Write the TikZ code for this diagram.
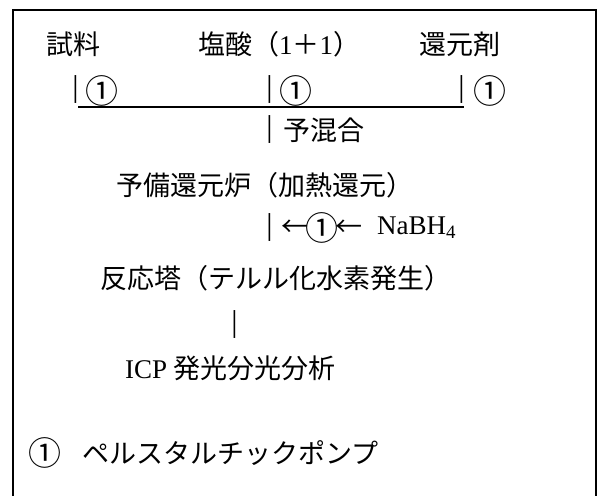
\documentclass[tikz,border=0pt]{standalone}
\usepackage{fontspec}
\setmainfont{Liberation Serif}
\newfontfamily\jp{Noto Sans CJK JP}
\begin{document}
\begin{tikzpicture}[x=1pt,y=-1pt,
  lbl/.style={anchor=west,inner sep=0pt,font=\fontsize{27}{30}\selectfont},
  pump/.style={anchor=west,inner sep=0pt,font=\jp\fontsize{33}{36}\selectfont},
  bar/.style={anchor=center,inner sep=0pt,font=\jp\fontsize{25}{30}\selectfont},
  frame/.style={line width=1.6pt},
  mixline/.style={line width=1.4pt}]
\useasboundingbox (0,0) rectangle (598,496);
\draw[frame] (13,500) -- (13,10) -- (596,10) -- (596,500);
% row 1
\node[lbl] (sample) at (46,44) {\jp 試料};
\node[lbl] (hcl) at (198,44) {\jp 塩酸（\rmfamily 1\jp ＋\rmfamily 1\jp ）};
\node[lbl] (red) at (419,44) {\jp 還元剤};
% row 2 pumps
\node[bar] (b1) at (76,90) {|};
\node[pump] (p1) at (85,91) {①};
\node[bar] (b2) at (270,90) {|};
\node[pump] (p2) at (279,91) {①};
\node[bar] (b3) at (462,90) {|};
\node[pump] (p3) at (473,91) {①};
\coordinate (ls) at (78,107);
\coordinate (le) at (464,107);
\draw[mixline] (ls) -- (le);
% premix
\node[bar] (b4) at (270,130) {|};
\node[lbl] (premix) at (283,130) {\jp 予混合};
\node[lbl] (furnace) at (116,185) {\jp 予備還元炉（加熱還元）};
\node[bar] (b5) at (270,228) {|};
\node[lbl] (a1) at (281,228) {\jp ←};
\node[pump] (p4) at (305,228) {①};
\node[lbl] (a2) at (335,228) {\jp ←};
\node[lbl] (nabh) at (377,228) {NaBH\textsubscript{4}};
\node[lbl] (tower) at (100,278) {\jp 反応塔（テルル化水素発生）};
\node[bar] (b6) at (235,325) {|};
\node[lbl] (icp) at (125,368) {ICP {\jp 発光分光分析}};
\node[pump] (p5) at (28,453) {①};
\node[lbl] (legend) at (82,453) {\jp ペルスタルチックポンプ};
\end{tikzpicture}
\end{document}
